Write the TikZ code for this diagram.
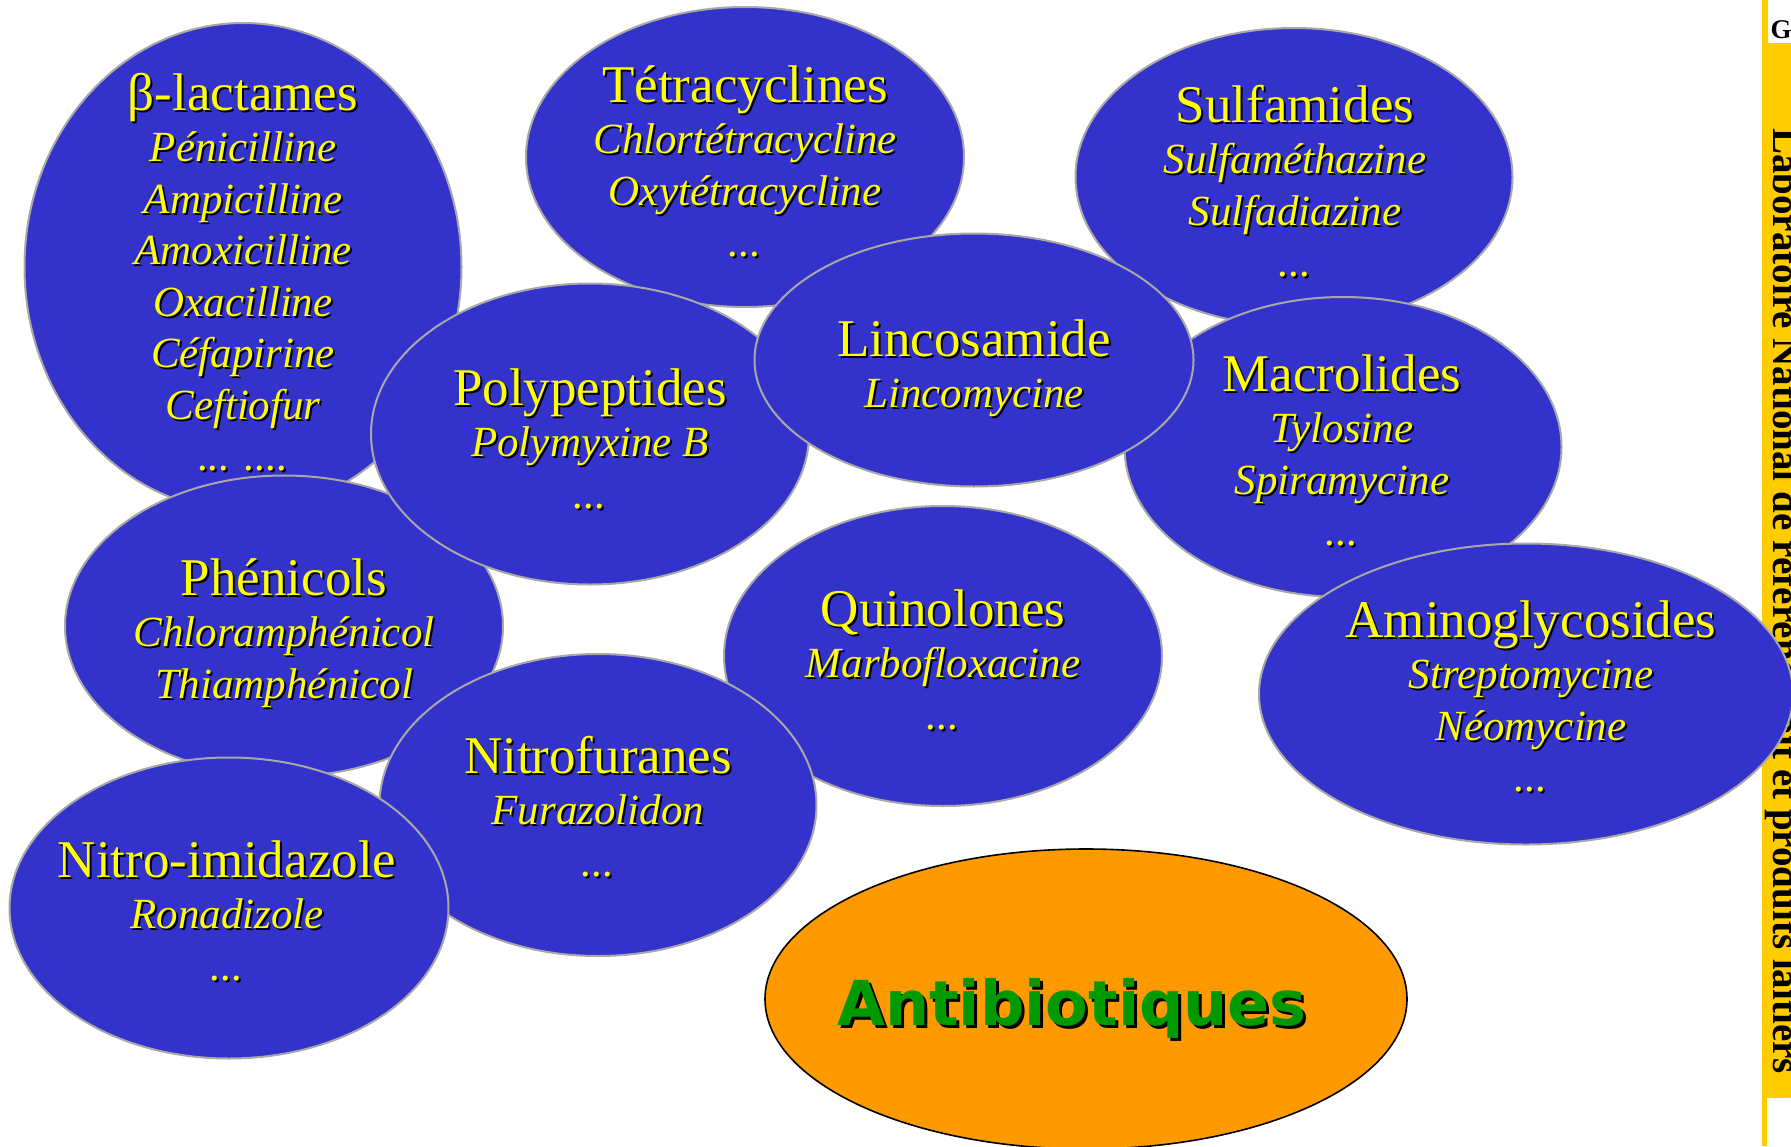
\documentclass[tikz,border=0pt]{standalone}
\usepackage{fontspec}
\usepackage{graphicx}
\setmainfont{Liberation Serif}
\newfontfamily\antifont{DejaVu Sans}
\usetikzlibrary{shapes.geometric}
\definecolor{blobblue}{HTML}{3333CC}
\definecolor{txtyellow}{HTML}{FFFF00}
\definecolor{antiorange}{HTML}{FF9900}
\definecolor{antigreen}{HTML}{009900}
\definecolor{stripyellow}{HTML}{FFCC00}
\definecolor{edgegray}{HTML}{A8A8A8}
\newcommand\shd[1]{\leavevmode\rlap{\kern2pt\raisebox{-2pt}{\color{black}#1}}#1}
\newcommand\blobtxt[2]{\shd{\begin{tabular}[t]{@{}c@{}}{\fontsize{53}{51.5}\selectfont\upshape #1}\\#2\end{tabular}}}
\tikzset{
  blob/.style={ellipse, draw=edgegray, line width=2pt, fill=blobblue, inner sep=0pt, outer sep=0pt},
  blobtext/.style={anchor=base, inner sep=0pt, text=txtyellow, font=\fontsize{43}{51.5}\selectfont\itshape},
  antiblob/.style={ellipse, draw=black, line width=1.6pt, fill=antiorange, inner sep=0pt, outer sep=0pt},
}
\begin{document}
\begin{tikzpicture}[x=1pt, y=-1pt]
\useasboundingbox (0,0) rectangle (1791,1146);
\fill[white] (0,0) rectangle (1791,1146);
% side strip
\fill[stripyellow] (1762,0) rectangle (1791,1146);
\node[rotate=-90, anchor=base west, inner sep=0pt, font=\fontsize{39}{39}\selectfont\bfseries] (lab) at (1773,128) {Laboratoire National de référence lait et produits laitiers};
\fill[white] (1768,0) rectangle (1791,43);
\node[anchor=base, inner sep=0pt, font=\fontsize{27}{27}\selectfont\bfseries] (logo) at (1781,38) {G};
\fill[white] (1767,1098) rectangle (1791,1146);

% beta-lactames
\node[blob, minimum width=437pt, minimum height=488pt] (bl) at (243,267) {};
\node[blobtext] (blt) at (243,110) {\blobtxt{β-lactames}{Pénicilline\\Ampicilline\\Amoxicilline\\Oxacilline\\Céfapirine\\Ceftiofur\\... ....}};
% Tetracyclines
\node[blob, minimum width=438pt, minimum height=300pt] (tet) at (745,157) {};
\node[blobtext] (tett) at (745,102) {\blobtxt{Tétracyclines}{Chlortétracycline\\Oxytétracycline\\...}};
% Sulfamides
\node[blob, minimum width=437pt, minimum height=298pt] (sul) at (1294,177) {};
\node[blobtext] (sult) at (1295,122) {\blobtxt{Sulfamides}{Sulfaméthazine\\Sulfadiazine\\...}};
% Phenicols
\node[blob, minimum width=438pt, minimum height=301pt] (phe) at (284,626) {};
\node[blobtext] (phet) at (284,595) {\blobtxt{Phénicols}{Chloramphénicol\\Thiamphénicol}};
% Polypeptides
\node[blob, minimum width=438pt, minimum height=301pt] (pol) at (590,434) {};
\node[blobtext] (polt) at (590,405) {\blobtxt{Polypeptides}{Polymyxine B\\...}};
% Macrolides
\node[blob, minimum width=437pt, minimum height=300pt] (mac) at (1343,447) {};
\node[blobtext] (mact) at (1342,391) {\blobtxt{Macrolides}{Tylosine\\Spiramycine\\...}};
% Lincosamide
\node[blob, minimum width=439pt, minimum height=253pt] (lin) at (974,360) {};
\node[blobtext] (lint) at (974,356) {\blobtxt{Lincosamide}{Lincomycine}};
% Aminoglycosides
\node[blob, minimum width=534pt, minimum height=301pt] (ami) at (1526,694) {};
\node[blobtext] (amit) at (1531,637) {\blobtxt{Aminoglycosides}{Streptomycine\\Néomycine\\...}};
% Quinolones
\node[blob, minimum width=438pt, minimum height=300pt] (qui) at (943,656) {};
\node[blobtext] (quit) at (943,626) {\blobtxt{Quinolones}{Marbofloxacine\\...}};
% Nitrofuranes
\node[blob, minimum width=437pt, minimum height=302pt] (nif) at (598,805) {};
\node[blobtext] (nift) at (598,773) {\blobtxt{Nitrofuranes}{Furazolidon\\...}};
% Nitro-imidazole
\node[blob, minimum width=439pt, minimum height=301pt] (nii) at (229,908) {};
\node[blobtext] (niit) at (227,877) {\blobtxt{Nitro-imidazole}{Ronadizole\\...}};
% Antibiotiques
\node[antiblob, minimum width=642pt, minimum height=300pt] (anti) at (1086,999) {};
\node[anchor=base, inner sep=0pt, text=antigreen, font=\antifont\bfseries\fontsize{62}{62}\selectfont] (antit) at (1072,1025) {\rlap{\kern3pt\raisebox{-3pt}{\color{black}Antibiotiques}}Antibiotiques};
\end{tikzpicture}
\end{document}
